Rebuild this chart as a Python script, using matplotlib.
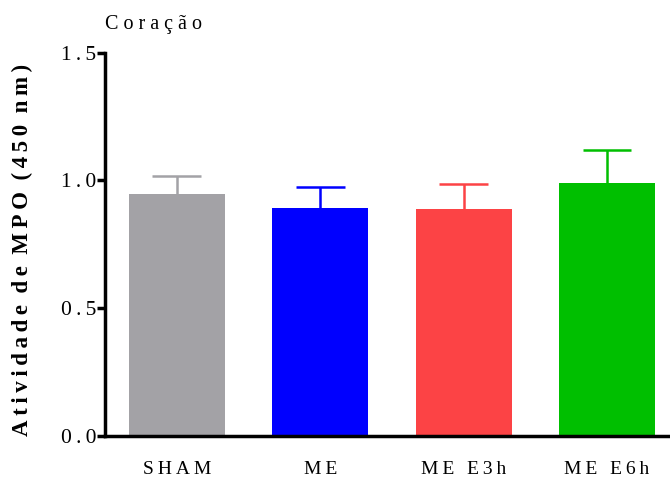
import numpy as np
import matplotlib.pyplot as plt

# MPO activity in heart tissue, mean + upper SEM
grupos = ['SHAM', 'ME', 'ME E3h', 'ME E6h']
medias = [0.948, 0.893, 0.889, 0.991]
erros = [0.070, 0.082, 0.098, 0.129]
cores = ['#A3A2A6', '#0000FF', '#FC4345', '#00BF00']

plt.rcParams['font.family'] = ['Liberation Serif', 'DejaVu Serif']


def espacado(txt, sep='\u2009'):
    # letter spaced text, like the prism export
    return sep.join(txt)


fig = plt.figure(figsize=(6.7, 4.8), dpi=100)
ax = fig.add_axes([0.157, 0.092, 0.843, 0.798])

x = np.arange(len(grupos))
ax.bar(x, medias, width=0.67, color=cores, zorder=2)
# only the upper half of the error bar, starting at the bar top
topo = np.array(medias) + np.array(erros)
ax.vlines(x, medias, topo, colors=cores, linewidth=1.8, zorder=1)
ax.hlines(topo, x - 0.17, x + 0.17, colors=cores, linewidth=1.8, zorder=1)

ax.set_xlim(-0.5, 3.44)
ax.set_ylim(0, 1.5)
ax.set_yticks([0, 0.5, 1.0, 1.5])
ax.set_yticklabels([espacado(f'{v:.1f}') for v in [0, 0.5, 1.0, 1.5]],
                   fontsize=15.5)
ax.set_xticks(x)
ax.set_xticklabels([espacado(g) for g in grupos], fontsize=14)
ax.tick_params(axis='x', length=0, pad=18)
ax.tick_params(axis='y', length=6, width=2.5, pad=0.5)

for s in ['top', 'right']:
    ax.spines[s].set_visible(False)
for s in ['left', 'bottom']:
    ax.spines[s].set_linewidth(2.5)

rotulo = '\u2002'.join(espacado(p) for p in 'Atividade de MPO (450 nm)'.split(' '))
ax.set_ylabel(rotulo, fontsize=16.5, fontweight='bold')
ax.yaxis.set_label_coords(-0.128, 0.485)
fig.text(0.157, 0.948, espacado('Coração', ' '), fontsize=14.5,
         ha='left', va='center')

fig.savefig('out.png', dpi=100)
